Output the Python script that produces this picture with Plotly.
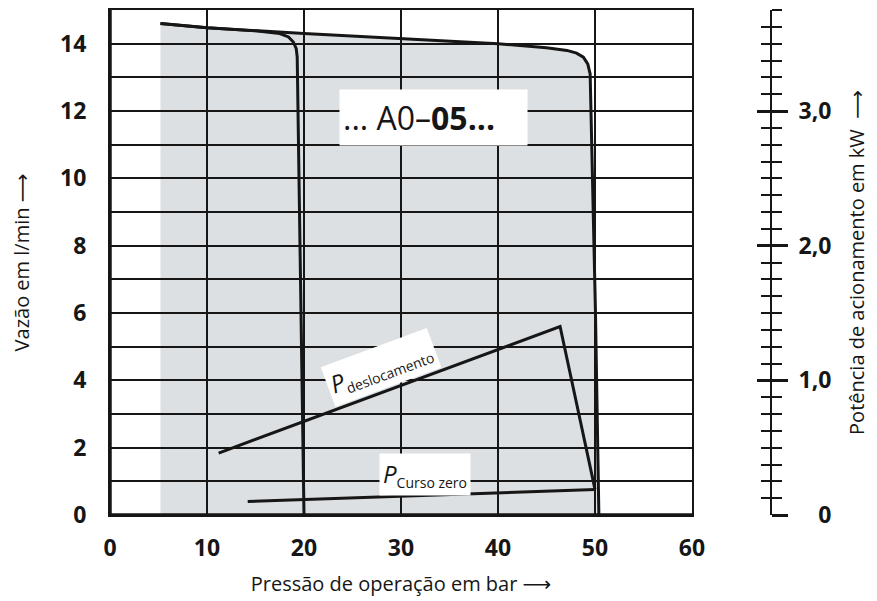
import plotly.graph_objects as go

# ---------------- data ----------------
# flow characteristic, pressure setting ~20 bar  (bar, l/min)
pressure_20 = [5.2, 10.0, 15.0, 17.5, 18.4, 18.9, 19.2, 19.3, 20.0]
flow_20 = [14.6, 14.47, 14.38, 14.3, 14.2, 14.05, 13.85, 13.6, 0.0]

# flow characteristic, pressure setting ~50 bar  (bar, l/min)
pressure_50 = [5.2, 10.0, 20.0, 30.0, 40.0, 45.0, 47.1, 48.1, 48.8, 49.25, 49.5, 50.05, 50.4]
flow_50 = [14.6, 14.47, 14.3, 14.15, 14.0, 13.88, 13.8, 13.72, 13.6, 13.4, 13.1, 6.0, 0.0]

# drive power (bar, kW)
pressure_desloc = [11.2, 46.4, 50.0]
power_desloc = [0.46, 1.40, 0.19]
pressure_zero = [14.2, 50.0]
power_zero = [0.10, 0.19]

x_ticks = [0, 10, 20, 30, 40, 50, 60]
y_ticks = [0, 2, 4, 6, 8, 10, 12, 14]
kw_ticks = [0, 1, 2, 3]
kw_labels = ["\u2007\u20080", "1,0", "2,0", "3,0"]

# ---------------- styling ----------------
FONT = "Open Sans"
TICKFAMILY = "Liberation Sans Narrow, Open Sans"
INK = "#161616"
GRAY = "#dde0e2"
W, H = 877, 601
OFF = 8  # page body margin of the html page
ML, MR, MT, MB = 110 - OFF, 106 + OFF, 10 - OFF, 86 + OFF
plot_w = W - ML - MR
x_dom_end = (692 - 110) / plot_w
ARROW = "<span style='font-family:DejaVu Sans'>\u27f6</span>"

fig = go.Figure()

# gray operating region below the 50 bar characteristic (drawn below gridlines)
path = f"M {pressure_50[0]},0 " + " ".join(
    f"L {px},{fy}" for px, fy in zip(pressure_50, flow_50)) + " Z"
fig.add_shape(type="path", path=path, xref="x", yref="y",
              fillcolor=GRAY, line=dict(width=0), layer="below")

fig.add_trace(go.Scatter(x=pressure_50, y=flow_50, mode="lines",
                         line=dict(color=INK, width=3), showlegend=False,
                         hoverinfo="skip"))
fig.add_trace(go.Scatter(x=pressure_20, y=flow_20, mode="lines",
                         line=dict(color=INK, width=3), showlegend=False,
                         hoverinfo="skip"))
fig.add_trace(go.Scatter(x=pressure_desloc, y=power_desloc, mode="lines",
                         line=dict(color=INK, width=3), showlegend=False,
                         yaxis="y2", hoverinfo="skip"))
fig.add_trace(go.Scatter(x=pressure_zero, y=power_zero, mode="lines",
                         line=dict(color=INK, width=3), showlegend=False,
                         yaxis="y3", hoverinfo="skip"))

tickfont = dict(family=TICKFAMILY, size=23, color=INK, weight="bold")
titlefont = dict(family=FONT, size=20, color=INK)

fig.update_layout(
    width=W, height=H,
    margin=dict(l=ML, r=MR, t=MT, b=MB, autoexpand=False),
    paper_bgcolor="white", plot_bgcolor="white",
    font=dict(family=FONT, color=INK),
    xaxis=dict(
        domain=[0, x_dom_end], range=[0, 60], automargin=False,
        tickvals=x_ticks, ticktext=[str(v) for v in x_ticks],
        ticks="", ticklabelstandoff=11, tickfont=tickfont,
        showgrid=True, gridcolor=INK, gridwidth=1.5,
        showline=True, linecolor=INK, linewidth=2, mirror=True,
        zeroline=False,
        title=dict(text="Pressão de operação em bar " + ARROW, font=titlefont,
                   standoff=15),
    ),
    yaxis=dict(
        range=[0, 15], automargin=False,
        tickvals=y_ticks, ticktext=[str(v) for v in y_ticks],
        ticks="", ticklabelstandoff=17, tickfont=tickfont,
        showgrid=True, gridcolor=INK, gridwidth=1.5,
        minor=dict(dtick=1, tick0=0, showgrid=True, gridcolor=INK, gridwidth=1.5),
        showline=True, linecolor=INK, linewidth=2, mirror=True,
        zeroline=False,
        title=dict(text="Vazão em l/min " + ARROW, font=titlefont, standoff=39),
    ),
    yaxis2=dict(
        overlaying="y", anchor="free", position=1, side="right",
        range=[0, 3.75], automargin=False,
        tickvals=kw_ticks, ticktext=kw_labels,
        ticks="outside", ticklen=16, tickwidth=3, tickcolor=INK,
        minor=dict(dtick=0.125, tick0=0, ticks="outside", ticklen=10,
                   tickwidth=1.5, tickcolor=INK),
        ticklabelstandoff=6, tickfont=tickfont,
        showgrid=False, zeroline=False,
        showline=True, linecolor=INK, linewidth=2,
        title=dict(text="Potência de acionamento em kW\u00a0\u00a0" + ARROW,
                   font=titlefont, standoff=19),
    ),
    yaxis3=dict(
        overlaying="y", anchor="free", position=1, side="right",
        range=[0, 3.75], automargin=False,
        tickvals=kw_ticks, showticklabels=False,
        ticks="inside", ticklen=14, tickwidth=3, tickcolor=INK,
        minor=dict(dtick=0.125, tick0=0, ticks="inside", ticklen=10,
                   tickwidth=1.5, tickcolor=INK),
        showgrid=False, zeroline=False, showline=False,
    ),
)

# heavier left and bottom frame lines
fig.add_shape(type="line", xref="x domain", yref="y domain",
              x0=0, x1=0, y0=0, y1=1, line=dict(color=INK, width=3.5))
fig.add_shape(type="line", xref="x domain", yref="y domain",
              x0=0, x1=1, y0=0, y1=0, line=dict(color=INK, width=3.5))

# labels
fig.add_annotation(x=33.3, y=11.8, xref="x", yref="y", showarrow=False,
                   text="... A0\u2013<b>05...</b>", align="left",
                   font=dict(family=FONT, size=32, color=INK),
                   bgcolor="white", width=181, height=49, borderpad=3)
fig.add_annotation(x=27.9, y=4.39, xref="x", yref="y", showarrow=False,
                   text="<i>P</i><sub><span style='font-size:14px'>deslocamento</span></sub>",
                   textangle=-20.3,
                   font=dict(family=FONT, size=24, color=INK),
                   bgcolor="white", borderpad=3)
fig.add_annotation(x=32.5, y=1.19, xref="x", yref="y", showarrow=False,
                   text="<i>P</i><sub><span style='font-size:14px'>Curso zero</span></sub>",
                   font=dict(family=FONT, size=24, color=INK),
                   bgcolor="white", borderpad=3)

fig.write_html("out.html")
